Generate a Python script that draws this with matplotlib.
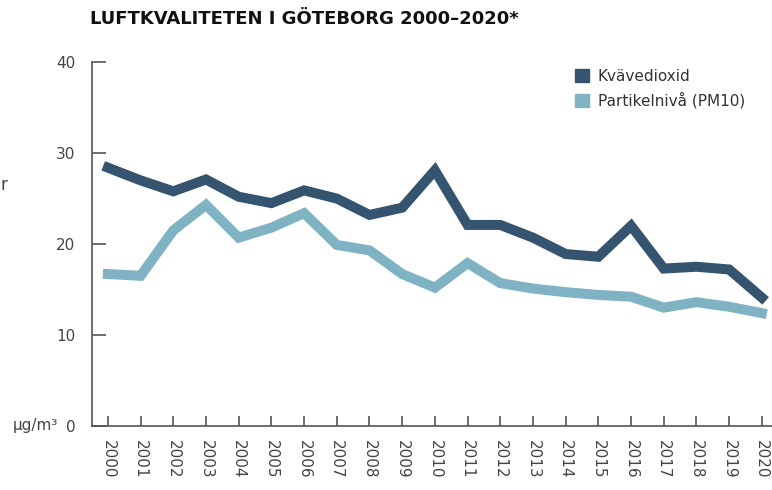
import matplotlib.pyplot as plt
from matplotlib.patches import Patch

# Luftkvalitet i Göteborg, årsmedelvärden (µg/m3)
years = list(range(2000, 2021))
no2 = [28.4, 27.0, 25.8, 27.1, 25.2, 24.5, 25.9, 25.0, 23.2, 24.0, 28.1,
       22.1, 22.1, 20.7, 18.9, 18.6, 22.0, 17.3, 17.5, 17.2, 14.1]
pm10 = [16.7, 16.5, 21.5, 24.3, 20.7, 21.8, 23.4, 19.9, 19.3, 16.7, 15.2,
        17.9, 15.7, 15.1, 14.7, 14.4, 14.2, 13.0, 13.6, 13.1, 12.4]
yticks = [0, 10, 20, 30, 40]

dark = '#34546f'
light = '#7fb3c4'
grey = '#555555'

fig = plt.figure(figsize=(7.72, 4.90), dpi=100)
ax = fig.add_axes([0.119, 0.131, 0.881, 0.742])

ax.plot(years, pm10, color=light, lw=7.2, solid_joinstyle='miter')
ax.plot(years, no2, color=dark, lw=7.2, solid_joinstyle='miter')

ax.set_xlim(1999.51, 2020.31)
ax.set_ylim(0, 40)
ax.set_xticks(years)
ax.set_xticklabels([str(y) for y in years], rotation=-90, fontsize=11, color='#444444')
ax.set_yticks(yticks)
ax.set_yticklabels([str(v) for v in yticks], fontsize=11, color='#444444')

for s in ['top', 'right']:
    ax.spines[s].set_visible(False)
for s in ['left', 'bottom']:
    ax.spines[s].set_color(grey)
    ax.spines[s].set_linewidth(1.2)
ax.tick_params(axis='x', direction='in', length=7, width=1.2, color=grey, pad=10)
ax.tick_params(axis='y', direction='in', length=10, width=1.2, color=grey, pad=12)

handles = [Patch(color=dark), Patch(color=light)]
ax.legend(handles, ['Kvävedioxid', 'Partikelnivå (PM10)'], loc='upper left',
          bbox_to_anchor=(0.69, 1.02), frameon=False, fontsize=11,
          handlelength=0.9, handleheight=0.9, handletextpad=0.6, labelspacing=0.55,
          labelcolor='#333333')

fig.text(0.117, 0.961, 'LUFTKVALITETEN I GÖTEBORG 2000–2020*', fontsize=13,
         fontweight='heavy', color='#111111', va='center', ha='left')
fig.text(0.017, 0.131, 'µg/m³', fontsize=11, color='#444444', va='center', ha='left')
fig.text(0.0, 0.622, 'r', fontsize=12, color='#444444', va='center', ha='left')

fig.savefig('out.png', dpi=100)
